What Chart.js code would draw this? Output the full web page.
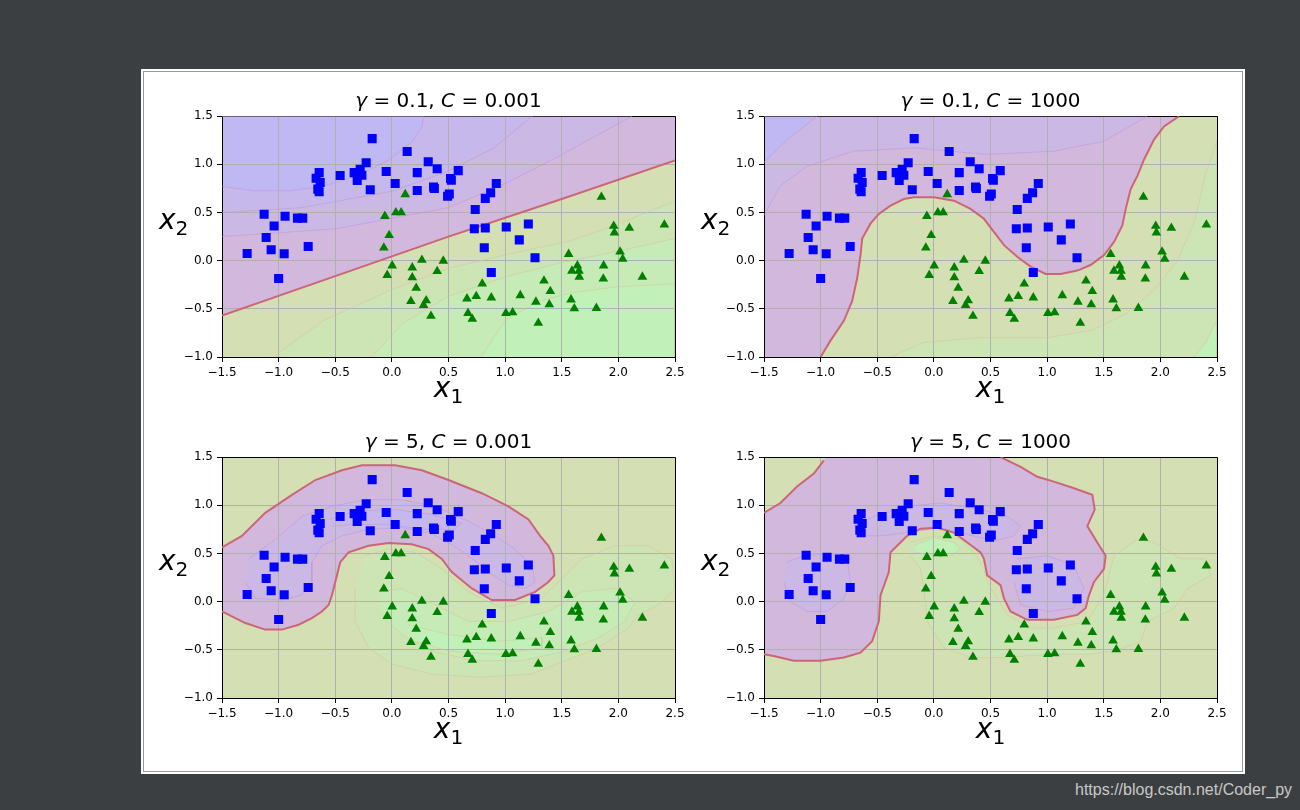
<!DOCTYPE html>
<html>
<head>
<meta charset="utf-8">
<script src="https://cdn.jsdelivr.net/npm/chart.js@4.4.1/dist/chart.umd.min.js"></script>
<style>
  html, body { margin: 0; padding: 0; }
  body { width: 1300px; height: 810px; background: #3c3f41; position: relative; overflow: hidden; font-family: 'DejaVu Sans', sans-serif; }
  #paper { position: absolute; left: 141px; top: 69px; width: 1104px; height: 705px; background: #fff; }
  #frame { position: absolute; left: 143px; top: 71px; width: 1098px; height: 699px; border: 1px solid #9a9a9a; }
  canvas { position: absolute; }
  .title { position: absolute; font-size: 20px; line-height: 20px; white-space: nowrap; transform: translateX(-50%); color: #000; }
  .xlab { position: absolute; font-size: 28px; line-height: 28px; white-space: nowrap; transform: translateX(-50%); color: #000; }
  .ylab { position: absolute; font-size: 28px; line-height: 28px; white-space: nowrap; color: #000; }
  sub { font-size: 0.72em; vertical-align: -0.32em; line-height: 0; }
  #wm { position: absolute; left: 1075px; top: 781px; font-family: 'Liberation Sans', Arial, sans-serif; font-size: 16px; color: #c8c8c8; }
</style>
</head>
<body>
<div id="paper"></div>
<div id="frame"></div>
<canvas id="c0" width="523" height="282"></canvas>
<canvas id="c1" width="523" height="282"></canvas>
<canvas id="c2" width="523" height="282"></canvas>
<canvas id="c3" width="523" height="282"></canvas>
<div id="labels"></div>
<div id="wm">https://blog.csdn.net/Coder_py</div>
<script>
// moons data (same in all four panels)
const blueX = [-0.174, 0.135, -0.227, 0.321, 0.40, 0.586, 0.224, -0.05, -0.333, -0.28, -0.265, -0.306, -0.457, -0.642, -0.669, -0.633, -0.654, -0.642, -0.191, 0.029, 0.224, 0.368, 0.375, 0.518, 0.525, 0.492, 0.507, 0.922, 0.872, 0.825, 0.736, 0.728, 0.825, 1.01, 1.205, 1.125, 0.816, 1.264, 0.878, -1.128, -0.943, -0.834, -0.787, -1.04, -1.11, -1.066, -0.951, -0.739, -1.278, -1.0];
const blueY = [1.267, 1.134, 1.017, 1.027, 0.955, 0.935, 0.914, 0.925, 0.914, 0.948, 0.887, 0.832, 0.884, 0.914, 0.856, 0.812, 0.743, 0.716, 0.736, 0.801, 0.729, 0.764, 0.75, 0.853, 0.835, 0.668, 0.692, 0.801, 0.705, 0.647, 0.531, 0.332, 0.339, 0.349, 0.380, 0.216, 0.134, 0.031, -0.123, 0.483, 0.462, 0.442, 0.442, 0.36, 0.24, 0.113, 0.072, 0.147, 0.075, -0.185];
const greenX = [0.118, 0.035, 0.082, -0.062, -0.024, -0.071, 0.003, -0.041, 0.18, 0.265, 0.18, 0.454, 0.40, 0.215, 0.168, 0.303, 0.28, 0.345, 0.663, 0.745, 0.878, 0.798, 0.672, 0.71, 1.007, 1.066, 1.134, 1.272, 1.293, 1.343, 1.399, 1.39, 1.561, 1.638, 1.59, 1.652, 1.655, 1.582, 1.611, 1.806, 1.87, 1.867, 1.85, 1.959, 1.965, 2.097, 2.015, 2.038, 2.212, 2.406];
const greenY = [0.688, 0.5, 0.5, 0.462, 0.264, 0.134, -0.051, -0.151, -0.072, 0.007, -0.175, -0.003, -0.11, -0.284, -0.421, -0.414, -0.462, -0.575, -0.394, -0.37, -0.384, -0.24, -0.545, -0.606, -0.545, -0.538, -0.36, -0.428, -0.647, -0.209, -0.318, -0.455, 0.068, -0.051, -0.106, -0.106, -0.168, -0.404, -0.497, -0.493, -0.051, -0.188, 0.661, 0.36, 0.291, 0.339, 0.092, 0.017, -0.168, 0.373];

const xTicks = [-1.5, -1.0, -0.5, 0.0, 0.5, 1.0, 1.5, 2.0, 2.5];
const yTicks = [-1.0, -0.5, 0.0, 0.5, 1.0, 1.5];

const titles = [
  ['0.1', '0.001'],
  ['0.1', '1000'],
  ['5', '0.001'],
  ['5', '1000']
];

const full = [[-1.5, -1.0], [2.5, -1.0], [2.5, 1.5], [-1.5, 1.5]];

// gamma=0.1, C=0.001
const tlBoundary = [[-1.5, -0.57], [-0.5, -0.16], [0.5, 0.25], [1.5, 0.64], [2.5, 1.04]];
const tlP1 = [[-1.5, 0.25], [-0.5, 0.33], [0.5, 0.55], [1.0, 0.8], [1.5, 1.1], [2.12, 1.5]];
const tlP2 = [[-1.5, 0.5], [-0.8, 0.55], [0.0, 0.72], [0.5, 0.93], [0.9, 1.17], [1.24, 1.5]];
const tlP3 = [[-1.5, 0.77], [-1.206, 0.725], [-0.911, 0.725], [-0.617, 0.77], [-0.323, 0.873], [-0.028, 1.045], [0.178, 1.235], [0.266, 1.39], [0.281, 1.5]];
const tlG1 = [[-1.05, -1.0], [-0.6, -0.62], [0.0, -0.3], [0.5, -0.08], [1.0, 0.06], [1.59, 0.21], [2.0, 0.38], [2.5, 0.62]];
const tlG2 = [[-0.18, -1.0], [0.1, -0.65], [0.5, -0.37], [1.0, -0.17], [1.5, -0.02], [2.0, 0.1], [2.5, 0.23]];
const tlG3 = [[0.79, -1.0], [1.0, -0.62], [1.3, -0.42], [1.6, -0.33], [2.0, -0.27], [2.5, -0.24]];

// gamma=0.1, C=1000
const trBoundary = [[-1.0, -1.0], [-0.913, -0.83], [-0.795, -0.625], [-0.722, -0.42], [-0.677, -0.18], [-0.648, 0.058], [-0.633, 0.23], [-0.56, 0.384], [-0.486, 0.486], [-0.383, 0.572], [-0.265, 0.64], [-0.177, 0.658], [0.0, 0.658], [0.177, 0.623], [0.324, 0.538], [0.442, 0.435], [0.53, 0.298], [0.619, 0.161], [0.736, 0.041], [0.854, -0.062], [0.987, -0.137], [1.119, -0.137], [1.267, -0.103], [1.384, -0.045], [1.502, 0.058], [1.591, 0.195], [1.664, 0.366], [1.694, 0.538], [1.738, 0.743], [1.797, 0.88], [1.856, 1.051], [1.944, 1.257], [2.032, 1.394], [2.165, 1.5]];
const trP1 = [[-1.5, 0.469], [-1.355, 0.777], [-1.119, 0.983], [-0.707, 1.137], [-0.177, 1.171], [0.471, 1.103], [1.06, 1.137], [1.502, 1.24], [1.885, 1.5]];
const trP2 = [[-1.5, 1.02], [-1.29, 1.26], [-1.03, 1.5]];
const trG1 = [[-0.38, -1.0], [-0.1, -0.85], [0.4, -0.8], [1.0, -0.8], [1.4, -0.72], [1.7, -0.55], [1.95, -0.3], [2.15, 0.0], [2.3, 0.4], [2.4, 0.9], [2.5, 1.25]];
const trG2 = [[2.3, -1.0], [2.4, -0.85], [2.5, -0.62]];

// gamma=5, C=0.001
const blBoundary = [[-1.5, 0.563], [-1.324, 0.683], [-1.118, 0.922], [-0.882, 1.109], [-0.676, 1.263], [-0.441, 1.365], [-0.265, 1.416], [0.029, 1.416], [0.265, 1.365], [0.5, 1.263], [0.794, 1.126], [1.029, 0.99], [1.206, 0.853], [1.309, 0.683], [1.382, 0.58], [1.426, 0.478], [1.435, 0.273], [1.382, 0.205], [1.265, 0.102], [1.088, 0.017], [0.882, 0.017], [0.706, 0.137], [0.529, 0.307], [0.441, 0.444], [0.324, 0.546], [0.176, 0.597], [-0.029, 0.608], [-0.206, 0.58], [-0.382, 0.512], [-0.456, 0.41], [-0.5, 0.205], [-0.529, 0.068], [-0.559, -0.034], [-0.618, -0.102], [-0.706, -0.171], [-0.824, -0.239], [-0.971, -0.29], [-1.118, -0.29], [-1.294, -0.222], [-1.5, -0.102]];
const blP1 = [[-1.265, 0.444], [-1.029, 0.648], [-0.794, 0.887], [-0.529, 0.99], [-0.235, 1.058], [0.088, 1.058], [0.382, 0.99], [0.676, 0.836], [0.912, 0.683], [1.088, 0.546], [1.235, 0.375], [1.265, 0.205], [1.176, 0.137], [1.029, 0.171], [0.853, 0.307], [0.676, 0.478], [0.5, 0.614], [0.324, 0.717], [0.088, 0.768], [-0.206, 0.751], [-0.441, 0.683], [-0.618, 0.58], [-0.706, 0.41], [-0.706, 0.205], [-0.794, 0.068], [-0.971, 0.017], [-1.206, 0.034], [-1.294, 0.205]];
const blP2 = [[-0.559, 0.853], [-0.324, 0.939], [0.029, 0.956], [0.353, 0.904], [0.618, 0.819], [0.559, 0.751], [0.265, 0.751], [-0.029, 0.802], [-0.324, 0.802], [-0.529, 0.785]];
const blG1 = [[-0.235, 0.478], [-0.029, 0.546], [0.206, 0.512], [0.441, 0.341], [0.676, 0.102], [0.971, -0.068], [1.324, 0.034], [1.676, 0.444], [1.971, 0.58], [2.265, 0.58], [2.471, 0.444], [2.5, 0.137], [2.353, -0.034], [2.176, -0.137], [2.088, -0.273], [1.824, -0.478], [1.529, -0.614], [1.235, -0.751], [0.794, -0.785], [0.353, -0.751], [0.0, -0.648], [-0.206, -0.478], [-0.324, -0.205], [-0.324, 0.137]];
const blG2 = [[-0.118, 0.102], [0.088, 0.137], [0.324, 0.0], [0.676, -0.205], [1.029, -0.205], [1.382, -0.102], [1.676, 0.102], [1.971, 0.137], [2.147, 0.0], [2.059, -0.205], [1.824, -0.375], [1.529, -0.512], [1.147, -0.614], [0.735, -0.614], [0.353, -0.512], [0.088, -0.341], [-0.088, -0.137]];
const blG3 = [[0.147, -0.239], [0.5, -0.341], [0.941, -0.41], [1.324, -0.375], [1.324, -0.478], [0.941, -0.546], [0.5, -0.512], [0.206, -0.41]];

// gamma=5, C=1000
const brBoundary = [[-1.5, 0.922], [-1.355, 1.024], [-1.208, 1.195], [-1.06, 1.331], [-0.972, 1.468], [-0.943, 1.5], [0.589, 1.5], [0.648, 1.468], [0.766, 1.399], [0.913, 1.297], [1.06, 1.246], [1.237, 1.177], [1.399, 1.109], [1.42, 0.956], [1.355, 0.785], [1.443, 0.614], [1.517, 0.478], [1.502, 0.341], [1.414, 0.205], [1.37, 0.068], [1.34, -0.068], [1.267, -0.137], [1.06, -0.188], [0.825, -0.188], [0.677, -0.102], [0.619, 0.034], [0.589, 0.171], [0.471, 0.273], [0.442, 0.444], [0.412, 0.512], [0.295, 0.614], [0.177, 0.717], [0.029, 0.768], [-0.118, 0.758], [-0.236, 0.683], [-0.324, 0.58], [-0.383, 0.512], [-0.398, 0.307], [-0.471, 0.068], [-0.486, -0.205], [-0.545, -0.41], [-0.648, -0.529], [-0.795, -0.58], [-1.001, -0.614], [-1.237, -0.614], [-1.414, -0.563], [-1.5, -0.546]];
const brP1 = [[-1.296, 0.41], [-1.149, 0.478], [-0.913, 0.495], [-0.766, 0.444], [-0.736, 0.205], [-0.795, 0.034], [-0.943, -0.102], [-1.12, -0.102], [-1.267, 0.0], [-1.325, 0.205]];
const brP2 = [[-0.707, 0.785], [-0.53, 0.887], [-0.265, 0.99], [0.059, 1.024], [0.412, 0.956], [0.648, 0.887], [0.766, 0.785], [0.707, 0.683], [0.53, 0.631], [0.295, 0.699], [0.059, 0.768], [-0.236, 0.717], [-0.471, 0.683], [-0.677, 0.683]];
const brP3 = [[0.736, 0.444], [1.001, 0.478], [1.237, 0.375], [1.325, 0.137], [1.237, -0.068], [1.001, -0.102], [0.766, -0.034], [0.707, 0.205]];
const brG1 = [[-0.206, 0.614], [0.0, 0.683], [0.236, 0.648], [0.353, 0.512], [0.442, 0.341], [0.471, 0.205], [0.56, 0.034], [0.648, -0.137], [0.854, -0.273], [1.06, -0.273], [1.355, -0.205], [1.502, 0.068], [1.591, 0.478], [1.797, 0.648], [1.944, 0.614], [2.18, 0.444], [2.386, 0.444], [2.445, 0.273], [2.239, 0.137], [2.121, -0.068], [1.885, -0.205], [1.826, -0.41], [1.591, -0.512], [1.355, -0.546], [1.001, -0.546], [0.619, -0.58], [0.324, -0.58], [0.088, -0.478], [-0.059, -0.205], [-0.088, 0.137], [-0.118, 0.341], [-0.206, 0.478]];
const brG2 = [[-0.177, 0.58], [0.0, 0.666], [0.177, 0.614], [0.236, 0.546], [0.147, 0.478], [-0.029, 0.478], [-0.147, 0.512]];

const col = {
  green: '#d4dfb4', green1: '#cde5b5', green2: '#c7ebb6', green3: '#c1f1b8',
  purple: '#d3b8de', purple1: '#ccb8e5', purple2: '#c6b8eb', purple3: '#bfb8f2',
  edgeP: 'rgba(190,150,215,0.55)', edgeG: 'rgba(205,200,150,0.55)',
  boundary: '#cc6577'
};

const close = (line, ...corners) => line.concat(corners);

// each panel: [fill polygons in drawing order], boundary lines
const panels = [
  {
    regions: [
      [full, col.green], [close(tlBoundary, [2.5, 1.5], [-1.5, 1.5]), col.purple],
      [close(tlP1, [-1.5, 1.5]), col.purple1, col.edgeP], [close(tlP2, [-1.5, 1.5]), col.purple2, col.edgeP], [close(tlP3, [-1.5, 1.5]), col.purple3, col.edgeP],
      [close(tlG1, [2.5, -1.0]), col.green1, col.edgeG], [close(tlG2, [2.5, -1.0]), col.green2, col.edgeG], [close(tlG3, [2.5, -1.0]), col.green3, col.edgeG]
    ],
    lines: [tlBoundary]
  },
  {
    regions: [
      [full, col.green], [close(trBoundary, [-1.5, 1.5], [-1.5, -1.0]), col.purple],
      [close(trP1, [-1.5, 1.5]), col.purple1, col.edgeP], [close(trP2, [-1.5, 1.5]), col.purple3, col.edgeP],
      [close(trG1, [2.5, -1.0]), col.green1, col.edgeG], [close(trG2, [2.5, -1.0]), col.green3, col.edgeG]
    ],
    lines: [trBoundary]
  },
  {
    regions: [
      [full, col.green], [blBoundary, col.purple], [blP1, col.purple1, col.edgeP], [blP2, col.purple2, col.edgeP],
      [blG1, col.green1, col.edgeG], [blG2, col.green2, col.edgeG], [blG3, col.green3, col.edgeG]
    ],
    lines: [blBoundary.slice(0, 1).concat(blBoundary.slice(1))]
  },
  {
    regions: [
      [full, col.green], [close(brBoundary, [-1.5, 1.5]), col.purple],
      [brP1, col.purple1, col.edgeP], [brP2, col.purple1, col.edgeP], [brP3, col.purple1, col.edgeP],
      [brG1, col.green1, col.edgeG], [brG2, col.green3, col.edgeG]
    ],
    lines: [brBoundary.slice(0, 5), brBoundary.slice(6)]
  }
];

const areas = [[222, 115], [764, 115], [222, 456], [764, 456]];
const PLOT_W = 453, PLOT_H = 242, PAD_L = 50, PAD_T = 10;

const toXY = pts => pts.map(([x, y]) => ({ x, y }));
const fmt = v => v.toFixed(1).replace('-', '\u2212');
const edgeGrid = (lo, hi) => c => {
  const v = c.tick ? c.tick.value : null;
  return (v !== null && (Math.abs(v - lo) < 1e-9 || Math.abs(v - hi) < 1e-9)) ? '#000' : '#b0b0b0';
};

function axis(ticks, lo, hi, fit) {
  return {
    type: 'linear', min: lo, max: hi,
    afterBuildTicks: s => { s.ticks = ticks.map(v => ({ value: v })); },
    afterFit: fit,
    ticks: { callback: fmt, color: '#000', font: { family: 'DejaVu Sans', size: 12 }, padding: 4, maxRotation: 0, autoSkip: false },
    grid: { color: edgeGrid(lo, hi), tickColor: '#000', tickLength: 5, lineWidth: 1 },
    border: { color: '#000', width: 1 }
  };
}

panels.forEach((p, k) => {
  const cv = document.getElementById('c' + k);
  cv.style.left = (areas[k][0] - PAD_L) + 'px';
  cv.style.top = (areas[k][1] - PAD_T) + 'px';

  const datasets = [];
  const n = p.regions.length;
  p.regions.forEach(([pts, fillCol, edge], i) => {
    datasets.push({
      data: toXY(pts), showLine: true, fill: 'shape', backgroundColor: fillCol,
      borderColor: edge || 'rgba(0,0,0,0)', borderWidth: edge ? 1 : 0,
      pointRadius: 0, order: 100 - i
    });
  });
  p.lines.forEach(l => {
    datasets.push({ data: toXY(l), showLine: true, fill: false, borderColor: col.boundary, borderWidth: 2, pointRadius: 0, order: 50 });
  });
  datasets.push({
    data: greenX.map((x, i) => ({ x, y: greenY[i] })), pointStyle: 'triangle', pointRadius: 5.6,
    backgroundColor: '#008000', borderColor: '#008000', borderWidth: 0, order: 2
  });
  datasets.push({
    data: blueX.map((x, i) => ({ x, y: blueY[i] })), pointStyle: 'rect', pointRadius: 6.4,
    backgroundColor: '#0000ff', borderColor: '#0000ff', borderWidth: 0, order: 1
  });

  new Chart(cv, {
    type: 'scatter',
    data: { datasets },
    options: {
      responsive: false, animation: false, events: [], devicePixelRatio: 1,
      layout: { padding: { left: 0, top: PAD_T, right: 20, bottom: 0 } },
      plugins: { legend: { display: false }, tooltip: { enabled: false }, filler: { drawTime: 'beforeDraw' } },
      scales: {
        x: axis(xTicks, -1.5, 2.5, s => { s.height = 30; }),
        y: axis(yTicks, -1.0, 1.5, s => { s.width = PAD_L; })
      }
    }
  });

  // titles and axis labels as text
  const lab = document.getElementById('labels');
  const cx = areas[k][0] + PLOT_W / 2;
  const t = document.createElement('div');
  t.className = 'title';
  t.style.left = cx + 'px';
  t.style.top = (areas[k][1] - 25) + 'px';
  t.innerHTML = '<i>\u03b3</i> = ' + titles[k][0] + ', <i>C</i> = ' + titles[k][1];
  lab.appendChild(t);
  const xl = document.createElement('div');
  xl.className = 'xlab';
  xl.style.left = cx + 'px';
  xl.style.top = (areas[k][1] + 259) + 'px';
  xl.innerHTML = '<i>x</i><sub>1</sub>';
  lab.appendChild(xl);
  const yl = document.createElement('div');
  yl.className = 'ylab';
  yl.style.left = (areas[k][0] - 63) + 'px';
  yl.style.top = (areas[k][1] + 91) + 'px';
  yl.innerHTML = '<i>x</i><sub>2</sub>';
  lab.appendChild(yl);
});
</script>
</body>
</html>
